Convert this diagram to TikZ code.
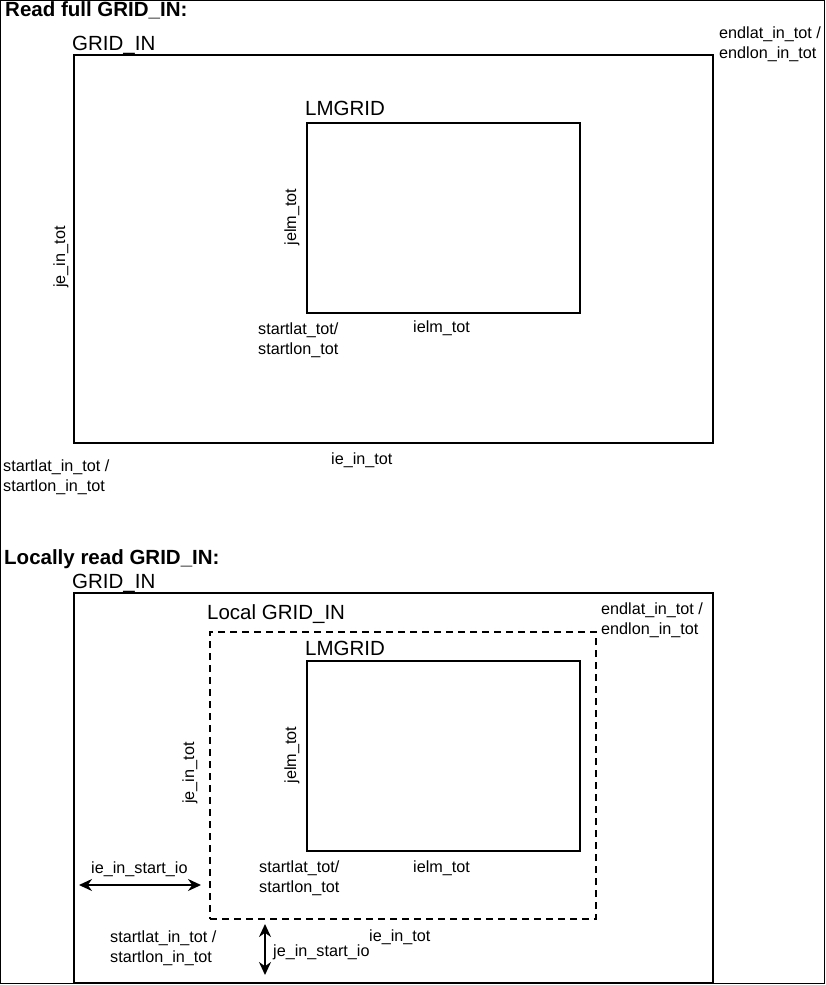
\documentclass[tikz,border=0pt]{standalone}
\usepackage{fontspec}
\setmainfont{Liberation Sans}
\usetikzlibrary{arrows.meta}
\begin{document}
\begin{tikzpicture}[x=1pt,y=-1pt,
  box/.style={draw=black,line width=2pt,anchor=north west,inner sep=0pt,minimum width=#1},
  dashbox/.style={draw=black,line width=2pt,dash pattern=on 7pt off 5pt,anchor=north west,inner sep=0pt},
  lbl/.style={inner sep=0pt,anchor=base west,font=\fontsize{16.2}{20.5}\selectfont,align=left},
  big/.style={inner sep=0pt,anchor=base west,font=\fontsize{20.5}{24}\selectfont},
  ttl/.style={inner sep=0pt,anchor=base west,font=\fontsize{20.5}{24}\selectfont\bfseries},
  rlbl/.style={inner sep=0pt,rotate=90,font=\fontsize{16.2}{20}\selectfont},
  dblarrow/.style={line width=2pt,{Stealth[length=13pt,width=12pt]}-{Stealth[length=13pt,width=12pt]}}
]
\useasboundingbox (0,0) rectangle (826,985);
\draw[line width=1pt] (0.5,0.5) rectangle (824.5,983.5);

% ---------- upper part ----------
\node[ttl] (t1) at (5,16.5) {Read full GRID\_IN:};
\node[box=639pt,minimum height=388pt] (gridA) at (73,54) {};
\node[big] (gridAlbl) at (72,50) {GRID\_IN};
\node[box=273pt,minimum height=190pt] (lmA) at (306,122) {};
\node[big] (lmAlbl) at (305,115) {LMGRID};
\node[lbl] (endA) at (719,58.5) {endlat\_in\_tot /\\endlon\_in\_tot};
\node[rlbl] (jeA) at (61,257) {je\_in\_tot};
\node[rlbl] (jelmA) at (292,217) {jelm\_tot};
\node[lbl] (stlA) at (258,354.5) {startlat\_tot/\\startlon\_tot};
\node[lbl] (ielmA) at (413,332) {ielm\_tot};
\node[lbl] (stA) at (3,491.5) {startlat\_in\_tot /\\startlon\_in\_tot};
\node[lbl] (ieA) at (331,464) {ie\_in\_tot};

% ---------- lower part ----------
\node[ttl] (t2) at (4,564) {Locally read GRID\_IN:};
\node[box=639pt,minimum height=390pt] (gridB) at (73,592) {};
\node[big] (gridBlbl) at (72,588) {GRID\_IN};
\node[dashbox,minimum width=386pt,minimum height=287pt] (loc) at (209,631) {};
\node[big] (locLbl) at (207,619) {Local GRID\_IN};
\node[lbl] (endB) at (601,634.5) {endlat\_in\_tot /\\endlon\_in\_tot};
\node[box=273pt,minimum height=190pt] (lmB) at (306,660) {};
\node[big] (lmBlbl) at (305,655) {LMGRID};
\node[rlbl] (jelmB) at (292,755) {jelm\_tot};
\node[rlbl] (jeB) at (190,773) {je\_in\_tot};
\node[lbl] (stlB) at (259,892.5) {startlat\_tot/\\startlon\_tot};
\node[lbl] (ielmB) at (413,872) {ielm\_tot};
\node[lbl] (iesB) at (91,873) {ie\_in\_start\_io};
\node[lbl] (stB) at (110,962.5) {startlat\_in\_tot /\\startlon\_in\_tot};
\node[lbl] (jesB) at (273,956) {je\_in\_start\_io};
\node[lbl] (ieB) at (369,941) {ie\_in\_tot};

\coordinate (hA) at (79,885);
\coordinate (hB) at (201,885);
\coordinate (vA) at (265,924);
\coordinate (vB) at (265,975);
\draw[dblarrow] (hA) -- (hB);
\draw[dblarrow] (vA) -- (vB);
\end{tikzpicture}
\end{document}
